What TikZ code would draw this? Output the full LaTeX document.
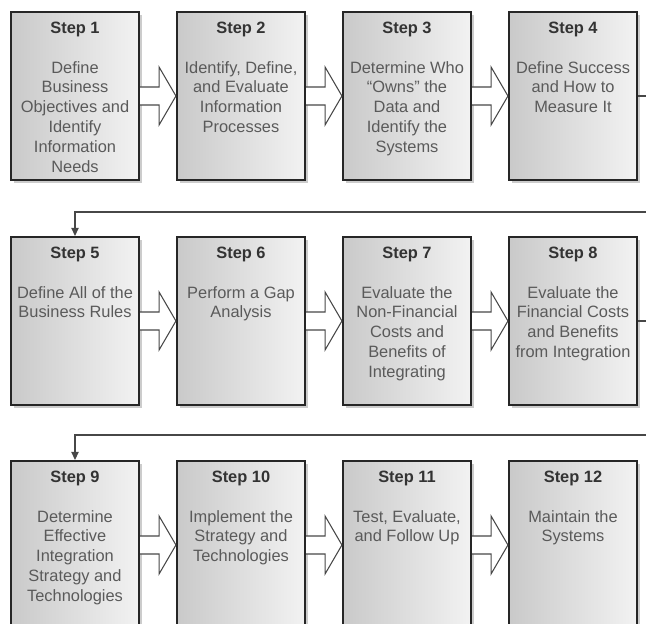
\documentclass[tikz,border=0pt]{standalone}
\usepackage{fontspec}
\setmainfont{Liberation Sans}
\usepackage{tikz}
\usetikzlibrary{positioning, arrows.meta, calc, shadows}
\definecolor{boxedge}{HTML}{262626}
\definecolor{arrowedge}{HTML}{474747}
\definecolor{titlegray}{HTML}{333333}
\definecolor{bodygray}{HTML}{5A5A5A}
\tikzset{
  stepbox/.style = {rectangle, draw=boxedge, line width=1.8pt,
                    minimum width=3.84cm, minimum height=5.04cm, inner sep=0pt,
                    left color=black!21, middle color=black!8, right color=black!5,
                    drop shadow={shadow xshift=0.09cm, shadow yshift=-0.09cm,
                                 opacity=0.2, fill=black}},
  steptitle/.style = {font=\fontsize{14}{17}\selectfont\bfseries, text=titlegray,
                      inner sep=0pt, anchor=center},
  stepbody/.style  = {font=\fontsize{14}{17}\selectfont, text=bodygray,
                      align=center, inner sep=0pt, anchor=north},
  hollow arrow/.style = {draw=arrowedge, fill=white, line width=0.9pt,
                         line join=miter},
  link/.style = {draw=arrowedge, line width=0.9pt,
                 -{Triangle[length=2.4mm, width=2.2mm]}},
}

\begin{document}
\begin{tikzpicture}[x=0.03cm, y=-0.03cm]

\useasboundingbox (0,0) rectangle (646,624);
\clip (0,0) rectangle (646,624);

% =====================================================================
% ROW 1 — steps 1 to 4
% =====================================================================
\node[stepbox] (s1) at (75,  96) {};
\node[stepbox] (s2) at (241, 96) {};
\node[stepbox] (s3) at (407, 96) {};
\node[stepbox] (s4) at (573, 96) {};

\node[steptitle] (t1) at ($(s1.north)+(0,19)$) {Step 1};
\node[steptitle] (t2) at ($(s2.north)+(0,19)$) {Step 2};
\node[steptitle] (t3) at ($(s3.north)+(0,19)$) {Step 3};
\node[steptitle] (t4) at ($(s4.north)+(0,19)$) {Step 4};

\node[stepbody] (b1) at ($(s1.north)+(0,50)$)
      {Define\\Business\\Objectives and\\Identify\\Information\\Needs};
\node[stepbody] (b2) at ($(s2.north)+(0,50)$)
      {Identify, Define,\\and Evaluate\\Information\\Processes};
\node[stepbody] (b3) at ($(s3.north)+(0,50)$)
      {Determine Who\\``Owns'' the\\Data and\\Identify the\\Systems};
\node[stepbody] (b4) at ($(s4.north)+(0,50)$)
      {Define Success\\and How to\\Measure It};

% =====================================================================
% ROW 2 — steps 5 to 8
% =====================================================================
\node[stepbox] (s5) at (75,  321) {};
\node[stepbox] (s6) at (241, 321) {};
\node[stepbox] (s7) at (407, 321) {};
\node[stepbox] (s8) at (573, 321) {};

\node[steptitle] (t5) at ($(s5.north)+(0,19)$) {Step 5};
\node[steptitle] (t6) at ($(s6.north)+(0,19)$) {Step 6};
\node[steptitle] (t7) at ($(s7.north)+(0,19)$) {Step 7};
\node[steptitle] (t8) at ($(s8.north)+(0,19)$) {Step 8};

\node[stepbody] (b5) at ($(s5.north)+(0,50)$)
      {Define All of the\\Business Rules};
\node[stepbody] (b6) at ($(s6.north)+(0,50)$)
      {Perform a Gap\\Analysis};
\node[stepbody] (b7) at ($(s7.north)+(0,50)$)
      {Evaluate the\\Non-Financial\\Costs and\\Benefits of\\Integrating};
\node[stepbody] (b8) at ($(s8.north)+(0,50)$)
      {Evaluate the\\Financial Costs\\and Benefits\\from Integration};

% =====================================================================
% ROW 3 — steps 9 to 12 (cut off at the bottom edge)
% =====================================================================
\node[stepbox] (s9)  at (75,  545) {};
\node[stepbox] (s10) at (241, 545) {};
\node[stepbox] (s11) at (407, 545) {};
\node[stepbox] (s12) at (573, 545) {};

\node[steptitle] (t9)  at ($(s9.north)+(0,19)$)  {Step 9};
\node[steptitle] (t10) at ($(s10.north)+(0,19)$) {Step 10};
\node[steptitle] (t11) at ($(s11.north)+(0,19)$) {Step 11};
\node[steptitle] (t12) at ($(s12.north)+(0,19)$) {Step 12};

\node[stepbody] (b9)  at ($(s9.north)+(0,50)$)
      {Determine\\Effective\\Integration\\Strategy and\\Technologies};
\node[stepbody] (b10) at ($(s10.north)+(0,50)$)
      {Implement the\\Strategy and\\Technologies};
\node[stepbody] (b11) at ($(s11.north)+(0,50)$)
      {Test, Evaluate,\\and Follow Up};
\node[stepbody] (b12) at ($(s12.north)+(0,50)$)
      {Maintain the\\Systems};

% Hollow block arrows between neighbours
\foreach \a/\b in {s1/s2, s2/s3, s3/s4, s5/s6, s6/s7, s7/s8, s9/s10, s10/s11, s11/s12} {
  \draw[hollow arrow] ($(\a.east)+(0,-9)$) -| ($(\a.east)+(19,-29)$)
        -- (\b.west) -- ($(\a.east)+(19,29)$) |- ($(\a.east)+(0,9)$);
}

% Return links to the next row (they leave the frame on the right)
\coordinate (r1) at (680, 212);
\coordinate (r2) at (680, 435);
\draw[link] (s4.east) -- (s4.east -| r1) -- (r1) -- (r1 -| s5.north) -- (s5.north);
\draw[link] (s8.east) -- (s8.east -| r2) -- (r2) -- (r2 -| s9.north) -- (s9.north);

\end{tikzpicture}
\end{document}
